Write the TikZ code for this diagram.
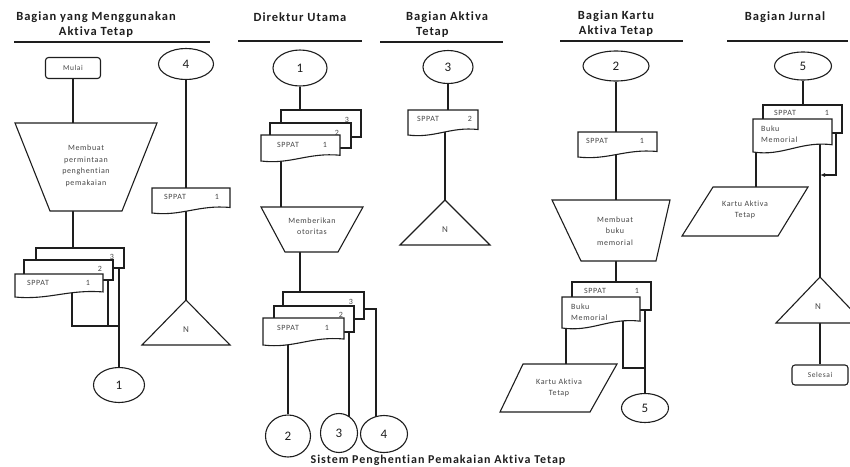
\documentclass[tikz,border=0pt]{standalone}
\usepackage{fontspec}
\setmainfont{Carlito}[LetterSpace=8,Ligatures=NoCommon]
\usetikzlibrary{positioning,shapes.geometric,arrows.meta,backgrounds}
\definecolor{garis}{RGB}{30,30,30}
\definecolor{tulisan}{RGB}{70,70,70}

% dokumen: nama, kiri, atas, lebar, tinggi
\newcommand{\dok}[5]{%
  \draw[bentuk] (#2,#3) -- ++(#4,0) -- ++(0,{0.78*#5})
    .. controls ({#2+0.6*#4},{#3+0.66*#5}) and ({#2+0.38*#4},{#3+1.14*#5}) .. (#2,{#3+#5}) -- cycle;
  \node[inner sep=0,minimum width=#4,minimum height=#5,anchor=north west] (#1) at (#2,#3) {};}
% lembar belakang
\newcommand{\lembar}[5]{%
  \draw[bentuk] (#2,#3) rectangle ++(#4,#5);
  \node[inner sep=0,minimum width=#4,minimum height=#5,anchor=north west] (#1) at (#2,#3) {};}

\begin{document}
\begin{tikzpicture}[x=1pt,y=-1pt,
    bentuk/.style={draw=garis,fill=white,line width=1.1pt},
    hubung/.style={draw=garis,line width=1.1pt},
    teks/.style={text=tulisan,font=\fontsize{8}{11.5}\selectfont,inner sep=0,align=center},
    judul/.style={text=garis,font=\fontsize{12.5}{15}\selectfont\bfseries,inner sep=0,align=center},
    konektor/.style={bentuk,ellipse,inner sep=0,text=garis,font=\fontsize{13}{15}\selectfont},
    terminal/.style={bentuk,rounded corners=3pt,inner sep=0,text=tulisan,font=\fontsize{7.5}{9}\selectfont},
    huruf/.style={text=tulisan,font=\fontsize{9}{11}\selectfont,inner sep=0}]
  \useasboundingbox (0,0) rectangle (850,466);
  \clip (0,0) rectangle (850,466);

  % judul kolom
  \node[judul] (kol1) at (96,25) {Bagian yang Menggunakan\\Aktiva Tetap};
  \node[judul] (kol2) at (300,17) {Direktur Utama};
  \node[judul,anchor=west] (kol3) at (406,17) {Bagian Aktiva};
  \node[judul,anchor=west] (kol3b) at (416,32) {Tetap};
  \node[judul] (kol4) at (616,24) {Bagian Kartu\\Aktiva Tetap};
  \node[judul] (kol5) at (785,17) {Bagian Jurnal};
  \draw[hubung] (14,42) -- (210,42);
  \draw[hubung] (238,41) -- (362,41);
  \draw[hubung] (380,42) -- (503,42);
  \draw[hubung] (560,41) -- (683,41);
  \draw[hubung] (727,41) -- (848,41);

  % bagian yang menggunakan aktiva tetap
  \node[terminal,minimum width=55,minimum height=21] (mulai) at (73,68) {Mulai};
  \draw[bentuk] (15,123) -- (157,123) -- (122,211) -- (50,211) -- cycle;
  \node[teks] (minta) at (86,166) {Membuat\\permintaan\\penghentian\\pemakaian};
  \lembar{spa3}{36}{248}{88}{20}
  \lembar{spa2}{24}{260}{89}{20}
  \dok{spa1}{15}{274}{88}{23}
  \node[teks] (spa3no) at (112,257) {3};
  \node[teks] (spa2no) at (100,269) {2};
  \node[teks] (spa1lbl) at (38,283) {SPPAT};
  \node[teks] (spa1no) at (88,283) {1};
  \node[konektor,minimum width=51,minimum height=35] (satu) at (119,385) {1};

  \node[konektor,minimum width=55,minimum height=31] (empat) at (186,64) {4};
  \dok{spb}{152}{188}{78}{25}
  \node[teks] (spblbl) at (175,197) {SPPAT};
  \node[teks] (spbno) at (217,197) {1};
  \draw[bentuk] (186,300) -- (230,345) -- (142,345) -- cycle;
  \node[huruf] (arsip1) at (186,330) {N};

  % direktur utama
  \node[konektor,minimum width=54,minimum height=36] (satu2) at (300,68) {1};
  \lembar{spc3}{281}{110}{80}{27}
  \lembar{spc2}{270}{123}{81}{25}
  \dok{spc1}{261}{135}{79}{26}
  \node[teks] (spc3no) at (347,120) {3};
  \node[teks] (spc2no) at (337,133) {2};
  \node[teks] (spc1lbl) at (288,145) {SPPAT};
  \node[teks] (spc1no) at (325,145) {1};
  \draw[bentuk] (261,207) -- (363,207) -- (338,252) -- (285,252) -- cycle;
  \node[teks] (otor) at (312,226) {Memberikan\\otoritas};
  \lembar{spd3}{283}{292}{81}{27}
  \lembar{spd2}{274}{306}{80}{26}
  \dok{spd1}{263}{318}{81}{27}
  \node[teks] (spd3no) at (351,302) {3};
  \node[teks] (spd2no) at (341,315) {2};
  \node[teks] (spd1lbl) at (288,328) {SPPAT};
  \node[teks] (spd1no) at (327,328) {1};
  \node[konektor,minimum width=45,minimum height=42] (dua) at (288,436) {2};
  \node[konektor,minimum width=37,minimum height=39] (tiga) at (339,433) {3};
  \node[konektor,minimum width=47,minimum height=37] (empat2) at (384,434) {4};

  % bagian aktiva tetap
  \node[konektor,minimum width=50,minimum height=33] (tiga2) at (448,67) {3};
  \dok{spe}{408}{110}{70}{25}
  \node[teks] (spelbl) at (428,119) {SPPAT};
  \node[teks] (speno) at (470,119) {2};
  \draw[bentuk] (445,200) -- (490,245) -- (400,245) -- cycle;
  \node[huruf] (arsip2) at (445,230) {N};

  % bagian kartu aktiva tetap
  \node[konektor,minimum width=66,minimum height=30] (dua2) at (616,66) {2};
  \dok{spf}{578}{132}{79}{25}
  \node[teks] (spflbl) at (597,141) {SPPAT};
  \node[teks] (spfno) at (642,141) {1};
  \draw[bentuk] (552,200) -- (670,200) -- (656,261) -- (581,261) -- cycle;
  \node[teks] (memo) at (615,231) {Membuat\\buku\\memorial};
  \lembar{spg2}{572}{282}{79}{28}
  \dok{spg1}{562}{297}{78}{31}
  \node[teks] (spg2lbl) at (595,291) {SPPAT};
  \node[teks] (spg2no) at (637,291) {1};
  \node[teks,anchor=west,align=left] (bm1) at (571,312) {Buku\\Memorial};
  \draw[bentuk] (523,364) -- (617,364) -- (590,412) -- (500,412) -- cycle;
  \node[teks] (kartu1) at (559,388) {Kartu Aktiva\\Tetap};
  \node[konektor,minimum width=47,minimum height=29] (lima) at (645,408) {5};

  % bagian jurnal
  \node[konektor,minimum width=57,minimum height=28] (lima2) at (803,66) {5};
  \lembar{sph2}{763}{105}{79}{28}
  \dok{sph1}{753}{119}{79}{33}
  \node[teks] (sph2lbl) at (785,113) {SPPAT};
  \node[teks] (sph2no) at (827,113) {1};
  \node[teks,anchor=west,align=left] (bm2) at (761,134) {Buku\\Memorial};
  \draw[bentuk] (713,187) -- (808,187) -- (778,236) -- (682,236) -- cycle;
  \node[teks] (kartu2) at (745,210) {Kartu Aktiva\\Tetap};
  \draw[bentuk] (820,277) -- (864,323) -- (776,323) -- cycle;
  \node[huruf] (arsip3) at (818,307) {N};
  \node[terminal,minimum width=56,minimum height=20] (selesai) at (820,375) {Selesai};

  \node[judul,font=\fontsize{12}{14}\selectfont\bfseries] (sistem) at (438,460) {Sistem Penghentian Pemakaian Aktiva Tetap};

  % garis alir
  \begin{scope}[on background layer]
    \draw[hubung] (mulai) -- (mulai |- spa3);
    \coordinate (gab1) at (119,326);
    \coordinate (gab1a) at (72,326);
    \coordinate (gab1b) at (108,326);
    \draw[hubung] (gab1a |- spa1) -- (gab1a) -- (gab1);
    \draw[hubung] (gab1b |- spa2) -- (gab1b);
    \draw[hubung] (gab1 |- spa3) -- (satu);
    \draw[hubung] (empat) -- (empat |- arsip1);

    \draw[hubung] (satu2) -- (satu2 |- spc3);
    \coordinate (turun2) at (281,150);
    \draw[hubung] (turun2) -- (turun2 |- otor);
    \draw[hubung] (satu2 |- otor) -- (satu2 |- spd3);
    \draw[hubung] (dua |- spd1) -- (dua);
    \coordinate (turun3) at (349,325);
    \draw[hubung] (turun3) -- (turun3 |- tiga);
    \coordinate (belok3) at (376,309);
    \draw[hubung] (belok3 -| spd3) -- (belok3) -- (belok3 |- empat2);

    \draw[hubung] (tiga2) -- (tiga2 |- spe);
    \draw[hubung] (arsip2 |- spe) -- (arsip2);

    \draw[hubung] (dua2) -- (dua2 |- spg2);
    \coordinate (turun4) at (566,320);
    \draw[hubung] (turun4) -- (turun4 |- kartu1);
    \coordinate (gab4) at (645,368);
    \coordinate (turun4b) at (623,320);
    \draw[hubung] (turun4b) |- (gab4);
    \draw[hubung] (gab4 |- spg2) -- (lima);

    \draw[hubung] (lima2) -- (lima2 |- sph2);
    \coordinate (turun5) at (756,140);
    \draw[hubung] (turun5) -- (turun5 |- kartu2);
    \coordinate (turun5b) at (820,140);
    \draw[hubung] (turun5b) -- (selesai);
    \coordinate (keluar5) at (836,125);
    \coordinate (masuk5) at (820,175);
    \draw[hubung,-{Latex[length=5pt,width=4pt]}] (keluar5) |- (masuk5);
  \end{scope}
\end{tikzpicture}
\end{document}
